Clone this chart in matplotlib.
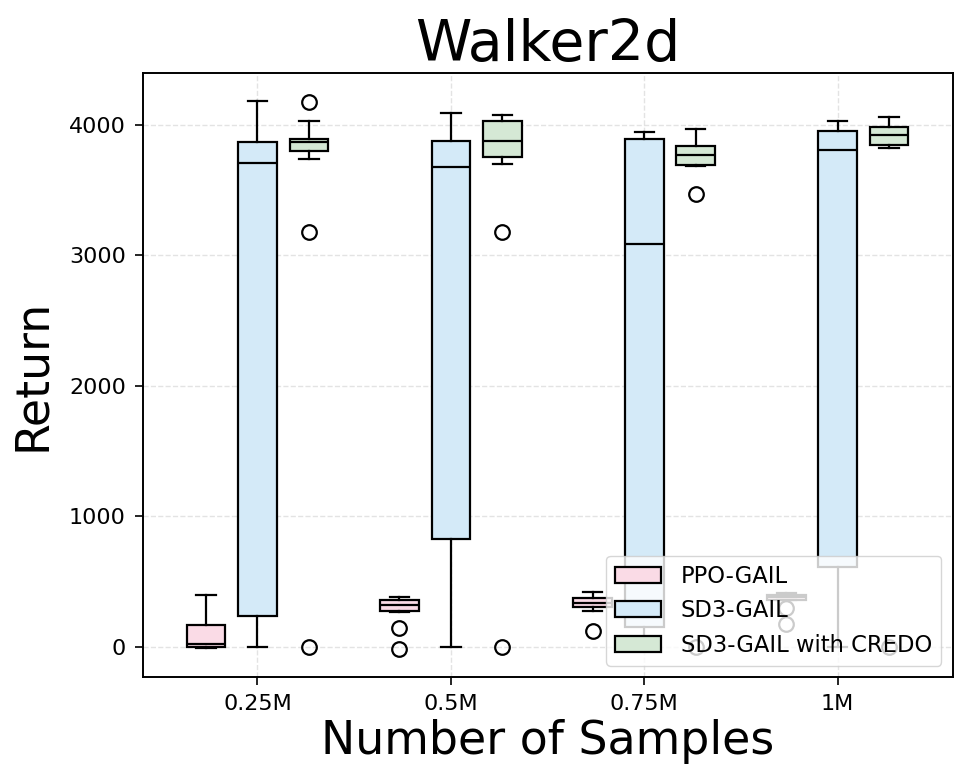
import numpy as np
import matplotlib
matplotlib.use("Agg")
import matplotlib.pyplot as plt
from matplotlib.patches import Patch

# sample budgets on the x axis
sample_labels = ["0.25M", "0.5M", "0.75M", "1M"]
methods = ["PPO-GAIL", "SD3-GAIL", "SD3-GAIL with CREDO"]
colors = ["#fadbe6", "#d4eaf8", "#d5e8d5"]

# box stats per method, one value per sample budget
ppo_whislo = [-5, 268, 276, 360]
ppo_q1 = [0, 276, 304, 362]
ppo_med = [20, 319, 337, 381]
ppo_q3 = [166, 363, 378, 398]
ppo_whishi = [396, 381, 421, 412]
ppo_fliers = [[], [143, -18], [125], [296, 176]]

sd3_whislo = [0, 0, 0, 0]
sd3_q1 = [240, 830, 156, 615]
sd3_med = [3711, 3680, 3090, 3808]
sd3_q3 = [3872, 3880, 3895, 3954]
sd3_whishi = [4186, 4089, 3943, 4028]
sd3_fliers = [[], [], [], []]

credo_whislo = [3742, 3697, 3683, 3826]
credo_q1 = [3803, 3755, 3691, 3842]
credo_med = [3872, 3877, 3768, 3921]
credo_q3 = [3890, 4026, 3839, 3987]
credo_whishi = [4026, 4077, 3966, 4064]
credo_fliers = [[4173, 3178, 0], [3178, 0], [3471, 0], [0]]


def make_stats(whislo, q1, med, q3, whishi, fliers):
    return [dict(whislo=a, q1=b, med=c, q3=d, whishi=e, fliers=f)
            for a, b, c, d, e, f in zip(whislo, q1, med, q3, whishi, fliers)]


all_stats = [
    make_stats(ppo_whislo, ppo_q1, ppo_med, ppo_q3, ppo_whishi, ppo_fliers),
    make_stats(sd3_whislo, sd3_q1, sd3_med, sd3_q3, sd3_whishi, sd3_fliers),
    make_stats(credo_whislo, credo_q1, credo_med, credo_q3, credo_whishi, credo_fliers),
]

fig = plt.figure(figsize=(9.7, 7.84), dpi=100)
ax = fig.add_axes([0.147, 0.1365, 0.835, 0.7705])

x = np.arange(1, len(sample_labels) + 1)
offsets = [-0.266, 0.0, 0.266]
lw = 1.6

for stats, off, col in zip(all_stats, offsets, colors):
    ax.bxp(stats, positions=x + off, widths=0.2, patch_artist=True,
           boxprops=dict(facecolor=col, edgecolor="black", linewidth=lw),
           medianprops=dict(color="black", linewidth=lw),
           whiskerprops=dict(color="black", linewidth=lw),
           capprops=dict(color="black", linewidth=lw),
           flierprops=dict(marker="o", markerfacecolor="none", markeredgecolor="black",
                           markersize=10.5, markeredgewidth=1.6))

ax.set_xticks(x)
ax.set_xticklabels(sample_labels, fontsize=16)
for lab in ax.get_yticklabels():
    lab.set_fontsize(16)
ax.tick_params(axis="both", labelsize=16, length=6, width=1.2, pad=6)
ax.set_xlim(0.406, 4.594)
ax.set_ylim(-230, 4398)
ax.set_axisbelow(True)
ax.grid(True, linestyle="--", color="#dddddd", alpha=0.8, linewidth=1)
for s in ax.spines.values():
    s.set_linewidth(1.4)

ax.set_title("Walker2d", fontsize=41, pad=8)
ax.set_xlabel("Number of Samples", fontsize=33, labelpad=4)
ax.set_ylabel("Return", fontsize=33, labelpad=10)

handles = [Patch(facecolor=c, edgecolor="black", linewidth=lw, label=m)
           for c, m in zip(colors, methods)]
ax.legend(handles=handles, loc="lower right", fontsize=16.3, framealpha=0.8,
          borderaxespad=0.5, handletextpad=0.9)

fig.savefig("out.png", dpi=100)
